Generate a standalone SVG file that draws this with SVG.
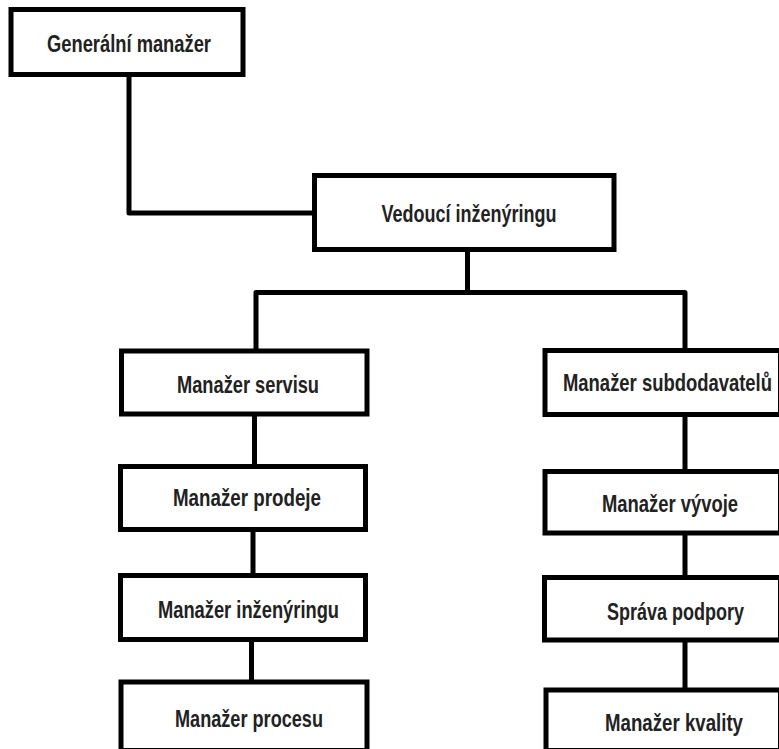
<svg xmlns="http://www.w3.org/2000/svg" width="779" height="749" viewBox="0 0 779 749">
<style>
.box{fill:#fff;stroke:#000;stroke-width:5}
.lbl{font-family:"Liberation Sans Narrow","Liberation Sans",Arial,sans-serif;font-weight:bold;font-size:24px;fill:#222;text-anchor:middle}
.con{fill:none;stroke:#000;stroke-width:5;stroke-linejoin:round}
</style>
<rect width="779" height="749" fill="#fff"/>
<g id="connectors">
<path class="con" d="M129,76 V213 H313"/>
<path class="con" d="M467.5,251 V292.5"/>
<path class="con" d="M256,351 V292.5 H685 V350.5"/>
<path class="con" d="M254.5,414 V466.5"/>
<path class="con" d="M253,529.5 V575.5"/>
<path class="con" d="M251.5,639.5 V682"/>
<path class="con" d="M685,414.5 V471.5"/>
<path class="con" d="M685,533 V577.5"/>
<path class="con" d="M685,640 V690"/>
</g>
<g id="n-generalni">
<rect class="box" x="11" y="9.5" width="232" height="65"/>
<text class="lbl" x="129" y="52" textLength="164" lengthAdjust="spacingAndGlyphs">Generální manažer</text>
</g>
<g id="n-vedouci">
<rect class="box" x="314.5" y="175.5" width="299.5" height="74"/>
<text class="lbl" x="469" y="221.5" textLength="175" lengthAdjust="spacingAndGlyphs">Vedoucí inženýringu</text>
</g>
<g id="n-servisu">
<rect class="box" x="121.5" y="351" width="245.5" height="63"/>
<text class="lbl" x="248" y="393" textLength="142" lengthAdjust="spacingAndGlyphs">Manažer servisu</text>
</g>
<g id="n-prodeje">
<rect class="box" x="120.5" y="466.5" width="245" height="63"/>
<text class="lbl" x="247" y="506" textLength="148" lengthAdjust="spacingAndGlyphs">Manažer prodeje</text>
</g>
<g id="n-inzenyringu">
<rect class="box" x="120.5" y="575.5" width="245" height="64"/>
<text class="lbl" x="248.5" y="618" textLength="181" lengthAdjust="spacingAndGlyphs">Manažer inženýringu</text>
</g>
<g id="n-procesu">
<rect class="box" x="121" y="682" width="246" height="68.5"/>
<text class="lbl" x="249" y="727" textLength="148" lengthAdjust="spacingAndGlyphs">Manažer procesu</text>
</g>
<g id="n-subdodavatelu">
<rect class="box" x="545" y="350.5" width="235.5" height="64"/>
<text class="lbl" x="667.5" y="391" textLength="209" lengthAdjust="spacingAndGlyphs">Manažer subdodavatelů</text>
</g>
<g id="n-vyvoje">
<rect class="box" x="545" y="471.5" width="235.5" height="61.5"/>
<text class="lbl" x="670" y="511.5" textLength="136" lengthAdjust="spacingAndGlyphs">Manažer vývoje</text>
</g>
<g id="n-sprava">
<rect class="box" x="544.5" y="577.5" width="236" height="62.5"/>
<text class="lbl" x="675.5" y="620" textLength="137" lengthAdjust="spacingAndGlyphs">Správa podpory</text>
</g>
<g id="n-kvality">
<rect class="box" x="546" y="690" width="234.5" height="60.5"/>
<text class="lbl" x="674" y="731" textLength="138" lengthAdjust="spacingAndGlyphs">Manažer kvality</text>
</g>
</svg>
